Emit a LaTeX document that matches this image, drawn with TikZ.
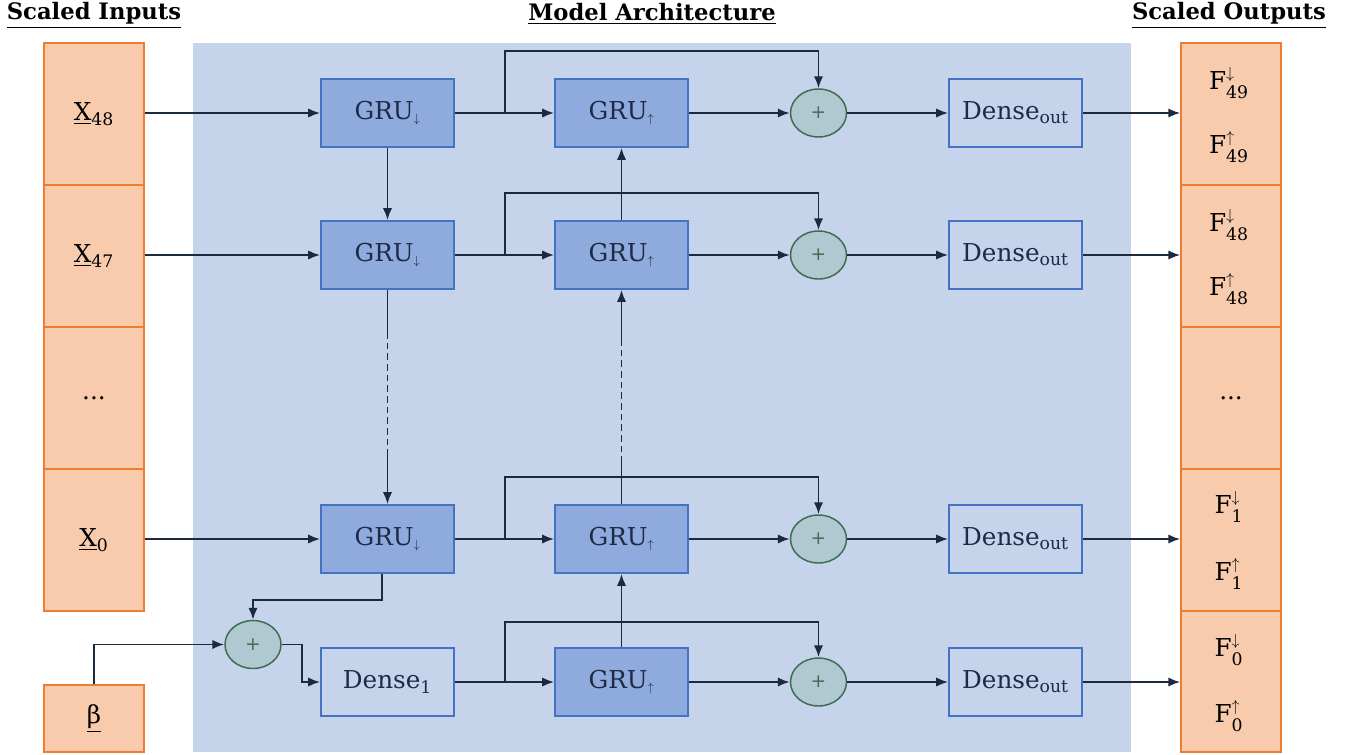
\documentclass[tikz,border=0pt]{standalone}
\usepackage{amsmath}
\usepackage{fontspec}
\setmainfont{DejaVu Serif}
\usetikzlibrary{arrows.meta,shapes.geometric}
\definecolor{bgblue}{HTML}{C5D4EB}
\definecolor{grufill}{HTML}{8FAADC}
\definecolor{boxedge}{HTML}{4472C4}
\definecolor{orfill}{HTML}{F8CBAD}
\definecolor{oredge}{HTML}{ED7D31}
\definecolor{sumfill}{HTML}{B0C8D0}
\definecolor{sumedge}{HTML}{3F6B52}
\definecolor{arr}{HTML}{1B2A41}
\definecolor{txt}{HTML}{1F2A44}
\tikzset{
  lbl/.style={font=\fontsize{18.5}{21}\selectfont},
  gru/.style={lbl, draw=boxedge, fill=grufill, line width=1.3pt, minimum width=99.75pt, minimum height=51pt, inner sep=0pt, text=txt},
  dense/.style={lbl, draw=boxedge, line width=1.3pt, minimum width=99.75pt, minimum height=51pt, inner sep=0pt, text=txt},
  sum/.style={ellipse, draw=sumedge, fill=sumfill, line width=1.1pt, minimum width=42pt, minimum height=36pt, inner sep=0pt, text=sumedge, font=\fontsize{14}{16}\selectfont},
  io/.style={lbl, draw=oredge, fill=orfill, line width=1.1pt, minimum width=75pt, inner sep=0pt},
  conn/.style={draw=arr, line width=1.45pt},
  arrow/.style={conn, -{Latex[length=9pt,width=7pt]}},
  dashline/.style={conn, dash pattern=on 5pt off 3pt},
  title/.style={font=\fontsize{17}{20}\selectfont\bfseries, text=black, inner sep=0pt}
}
\newcommand{\Fdn}[1]{F$^{\downarrow}_{\text{#1}}$}
\newcommand{\Fup}[1]{F$^{\uparrow}_{\text{#1}}$}
\newcommand{\GD}{GRU$_{\scriptscriptstyle\downarrow}$}
\newcommand{\GU}{GRU$_{\scriptscriptstyle\uparrow}$}
\begin{document}
\begin{tikzpicture}[x=0.75pt, y=-0.75pt]
\useasboundingbox (0,0) rectangle (1354,754);
% background
\fill[bgblue] (193,43) rectangle (1131,752);
% titles
\node[title] (tin) at (94,16) {\underline{Scaled Inputs}};
\node[title] (tarch) at (652,14) {\underline{Model Architecture}};
\node[title] (tout) at (1229,16) {\underline{Scaled Outputs}};
% input boxes
\node[io, minimum height=106.5pt] (x48) at (94,114) {\underline{X}$_{\text{48}}$};
\node[io, minimum height=106.5pt] (x47) at (94,256) {\underline{X}$_{\text{47}}$};
\node[io, minimum height=106.5pt] (xdots) at (94,398) {...};
\node[io, minimum height=106.5pt] (x0) at (94,540) {\underline{X}$_{\text{0}}$};
\node[io, minimum height=50.25pt] (beta) at (94,718.5) {\underline{β}};
% output boxes
\node[io, minimum height=106.5pt] (y49) at (1231,114) {};
\node[io, minimum height=106.5pt] (y48) at (1231,256) {};
\node[io, minimum height=106.5pt] (ydots) at (1231,398) {...};
\node[io, minimum height=106.5pt] (y1) at (1231,540) {};
\node[io, minimum height=105.75pt] (y0) at (1231,681.5) {};
\node[lbl] (f49d) at (1229,83) {\Fdn{49}};
\node[lbl] (f49u) at (1229,147) {\Fup{49}};
\node[lbl] (f48d) at (1229,225) {\Fdn{48}};
\node[lbl] (f48u) at (1229,289) {\Fup{48}};
\node[lbl] (f1d) at (1229,507) {\Fdn{1}};
\node[lbl] (f1u) at (1229,574) {\Fup{1}};
\node[lbl] (f0d) at (1229,650) {\Fdn{0}};
\node[lbl] (f0u) at (1229,716) {\Fup{0}};
% GRU down column
\node[gru] (gd1) at (387.5,113) {\GD};
\node[gru] (gd2) at (387.5,255) {\GD};
\node[gru] (gd3) at (387.5,539) {\GD};
\node[dense] (d1) at (387.5,682) {Dense$_{\text{1}}$};
% GRU up column
\node[gru] (gu1) at (621.5,113) {\GU};
\node[gru] (gu2) at (621.5,255) {\GU};
\node[gru] (gu3) at (621.5,539) {\GU};
\node[gru] (gu4) at (621.5,682) {\GU};
% sums
\node[sum] (s1) at (818.5,113) {+};
\node[sum] (s2) at (818.5,255) {+};
\node[sum] (s3) at (818.5,539) {+};
\node[sum] (s4) at (818.5,682) {+};
\node[sum] (sb) at (253,644.5) {+};
% dense out
\node[dense] (do1) at (1015.5,113) {Dense$_{\text{out}}$};
\node[dense] (do2) at (1015.5,255) {Dense$_{\text{out}}$};
\node[dense] (do3) at (1015.5,539) {Dense$_{\text{out}}$};
\node[dense] (do4) at (1015.5,682) {Dense$_{\text{out}}$};
% inputs to GRU down
\draw[arrow] (x48.east |- gd1) -- (gd1.west);
\draw[arrow] (x47.east |- gd2) -- (gd2.west);
\draw[arrow] (x0.east |- gd3) -- (gd3.west);
% rows
\foreach \a/\b/\s/\o/\y/\yy/\t in {gd1/gu1/s1/do1/113/51/y49, gd2/gu2/s2/do2/255/193/y48, gd3/gu3/s3/do3/539/477/y1, d1/gu4/s4/do4/682/622/y0}{
  \coordinate (br) at (505,\y);
  \coordinate (bt) at (505,\yy);
  \draw[arrow] (\a.east) -- (\b.west);
  \draw[arrow] (br) -- (bt) -| (\s.north);
  \draw[arrow] (\b.east) -- (\s.west);
  \draw[arrow] (\s.east) -- (\o.west);
  \draw[arrow] (\o.east) -- (\o.east -| \t.west);
}
% vertical down chain
\draw[arrow] (gd1.south) -- (gd2.north);
\coordinate (v1) at (387.5,332);
\coordinate (v2) at (387.5,450);
\draw[conn] (gd2.south) -- (v1);
\draw[dashline] (v1) -- (v2);
\draw[arrow] (v2) -- (gd3.north);
% vertical up chain
\draw[arrow] (gu4.north) -- (gu3.south);
\coordinate (u1) at (621.5,463);
\coordinate (u2) at (621.5,343);
\draw[conn] (gu3.north) -- (u1);
\draw[dashline] (u1) -- (u2);
\draw[arrow] (u2) -- (gu2.south);
\draw[arrow] (gu2.north) -- (gu1.south);
% beta and bottom sum
\draw[arrow] (beta.north) |- (sb.west);
\coordinate (c1) at (382,600);
\draw[arrow] (gd3.south -| c1) -- (c1) -| (sb.north);
\coordinate (c2) at (302,644.5);
\draw[arrow] (sb.east) -- (c2) |- (d1.west);
\end{tikzpicture}
\end{document}
